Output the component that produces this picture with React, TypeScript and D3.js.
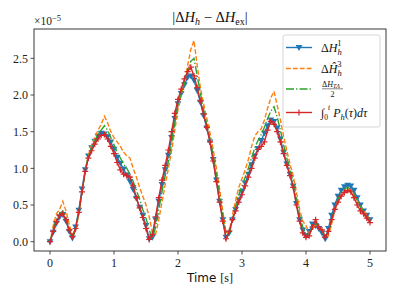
import * as d3 from 'd3';
import React from 'react';

// time grid (s), 0.05 s sampling
const time = d3.range(0, 5.0001, 0.05);

// values in units of 1e-5
const dH1 = [0.00, 0.13, 0.25, 0.34, 0.37, 0.28, 0.14, 0.05, 0.20, 0.43, 0.72, 0.98, 1.17, 1.28, 1.37, 1.44, 1.48, 1.47, 1.43, 1.36,
  1.26, 1.15, 1.07, 0.99, 0.91, 0.82, 0.71, 0.59, 0.47, 0.36, 0.22, 0.04, 0.06, 0.30, 0.55, 0.78, 0.98, 1.18, 1.42, 1.68,
  1.88, 2.02, 2.14, 2.24, 2.26, 2.20, 2.06, 1.90, 1.72, 1.55, 1.36, 1.12, 0.84, 0.55, 0.30, 0.06, 0.12, 0.30, 0.44, 0.57,
  0.68, 0.80, 0.92, 1.05, 1.17, 1.27, 1.38, 1.48, 1.58, 1.66, 1.64, 1.55, 1.40, 1.22, 1.06, 0.92, 0.76, 0.52, 0.30, 0.16,
  0.08, 0.14, 0.24, 0.22, 0.18, 0.12, 0.04, 0.18, 0.36, 0.50, 0.62, 0.70, 0.75, 0.77, 0.76, 0.70, 0.60, 0.50, 0.42, 0.36, 0.30];

const dHhat3 = [0.00, 0.22, 0.38, 0.44, 0.55, 0.42, 0.24, 0.10, 0.16, 0.38, 0.66, 0.96, 1.18, 1.32, 1.42, 1.52, 1.60, 1.71, 1.62, 1.50,
  1.42, 1.36, 1.30, 1.22, 1.17, 1.14, 1.00, 0.88, 0.74, 0.62, 0.50, 0.34, 0.12, 0.10, 0.30, 0.54, 0.78, 1.00, 1.24, 1.52,
  1.80, 2.00, 2.18, 2.40, 2.62, 2.74, 2.40, 2.10, 1.88, 1.68, 1.48, 1.26, 1.00, 0.72, 0.42, 0.12, 0.14, 0.36, 0.56, 0.74,
  0.86, 0.98, 1.12, 1.30, 1.44, 1.50, 1.54, 1.66, 1.82, 1.96, 2.05, 1.86, 1.66, 1.44, 1.24, 1.06, 0.90, 0.68, 0.44, 0.28,
  0.22, 0.12, 0.16, 0.24, 0.20, 0.14, 0.10, 0.08, 0.24, 0.42, 0.56, 0.64, 0.70, 0.72, 0.70, 0.64, 0.56, 0.48, 0.42, 0.36, 0.30];

const dHTL = [0.00, 0.18, 0.30, 0.38, 0.42, 0.32, 0.18, 0.04, 0.16, 0.40, 0.68, 0.96, 1.16, 1.28, 1.38, 1.46, 1.52, 1.58, 1.52, 1.42,
  1.32, 1.22, 1.14, 1.06, 1.00, 0.92, 0.82, 0.70, 0.58, 0.44, 0.32, 0.16, 0.04, 0.20, 0.44, 0.68, 0.90, 1.10, 1.34, 1.62,
  1.86, 2.02, 2.16, 2.30, 2.46, 2.50, 2.26, 2.02, 1.80, 1.60, 1.40, 1.18, 0.92, 0.64, 0.36, 0.10, 0.08, 0.30, 0.48, 0.64,
  0.76, 0.88, 1.00, 1.14, 1.28, 1.38, 1.46, 1.56, 1.68, 1.78, 1.84, 1.70, 1.52, 1.32, 1.14, 0.98, 0.82, 0.60, 0.36, 0.20,
  0.10, 0.10, 0.20, 0.26, 0.20, 0.14, 0.08, 0.12, 0.30, 0.46, 0.58, 0.66, 0.72, 0.74, 0.72, 0.66, 0.56, 0.48, 0.40, 0.34, 0.28];

const intPh = [0.00, 0.14, 0.27, 0.36, 0.38, 0.30, 0.16, 0.07, 0.18, 0.40, 0.68, 0.96, 1.14, 1.24, 1.33, 1.40, 1.45, 1.46, 1.40, 1.30,
  1.20, 1.08, 0.98, 0.92, 0.90, 0.88, 0.76, 0.60, 0.46, 0.33, 0.18, 0.03, 0.10, 0.34, 0.60, 0.84, 1.04, 1.25, 1.50, 1.75,
  1.94, 2.08, 2.22, 2.32, 2.38, 2.26, 2.10, 1.92, 1.74, 1.56, 1.36, 1.10, 0.82, 0.54, 0.28, 0.04, 0.14, 0.30, 0.42, 0.54,
  0.64, 0.76, 0.88, 1.00, 1.14, 1.26, 1.30, 1.36, 1.52, 1.64, 1.60, 1.50, 1.36, 1.20, 1.04, 0.90, 0.74, 0.50, 0.28, 0.12,
  0.06, 0.08, 0.20, 0.30, 0.20, 0.16, 0.06, 0.14, 0.30, 0.44, 0.54, 0.62, 0.67, 0.70, 0.68, 0.60, 0.50, 0.42, 0.38, 0.32, 0.26];

const xTicks = [0, 1, 2, 3, 4, 5];
const yTicks = [0, 0.5, 1.0, 1.5, 2.0, 2.5];

const W = 399, H = 299;
const left = 34, right = 386, top = 29, bottom = 251;
const serif = "'Liberation Serif', 'DejaVu Serif', serif";

const x = d3.scaleLinear().domain([-0.25, 5.25]).range([left, right]);
const y = d3.scaleLinear().domain([-0.127, 2.9]).range([bottom, top]);

const line = d3.line<number>().x((_, i) => x(time[i])).y(d => y(d));

const triDown = 'M-3.4,-2.5L3.4,-2.5L0,3.4Z';
const plus = 'M-3,0H3M0,-3V3';
const dash = '4.8,2.1';
const dashDot = '8,2.1,1.3,2.1';

function Tri({ cx, cy }: { cx: number; cy: number }) {
  return <path d={triDown} transform={`translate(${cx},${cy})`} fill="#1f77b4" />;
}
function Plus({ cx, cy }: { cx: number; cy: number }) {
  return <path d={plus} transform={`translate(${cx},${cy})`} stroke="#d62728" strokeWidth={1.2} fill="none" />;
}

export default function App() {
  const lx0 = 286, lx1 = 312, ltx = 321;
  return (
    <div style={{ position: 'fixed', left: 0, top: 0 }}>
      <svg width={W} height={H} style={{ display: 'block', background: '#fff' }} fontFamily={serif}>
        <defs>
          <clipPath id="plot"><rect x={left} y={top} width={right - left} height={bottom - top} /></clipPath>
        </defs>

        <g clipPath="url(#plot)">
          <path d={line(dH1) || ''} fill="none" stroke="#1f77b4" strokeWidth={1.4} />
          {dH1.map((v, i) => <Tri key={'b' + i} cx={x(time[i])} cy={y(v)} />)}
          <path d={line(dHhat3) || ''} fill="none" stroke="#ff7f0e" strokeWidth={1.4} strokeDasharray={dash} />
          <path d={line(dHTL) || ''} fill="none" stroke="#2ca02c" strokeWidth={1.4} strokeDasharray={dashDot} />
          <path d={line(intPh) || ''} fill="none" stroke="#d62728" strokeWidth={1.4} />
          {intPh.map((v, i) => <Plus key={'r' + i} cx={x(time[i])} cy={y(v)} />)}
        </g>

        <rect x={left} y={top} width={right - left} height={bottom - top} fill="none" stroke="#222" strokeWidth={0.9} />

        {xTicks.map(t => (
          <g key={'x' + t} transform={`translate(${x(t)},${bottom})`}>
            <line y2={3.5} stroke="#222" strokeWidth={0.8} />
            <text y={15.5} textAnchor="middle" fontSize={12} fill="#222">{t}</text>
          </g>
        ))}
        {yTicks.map(t => (
          <g key={'y' + t} transform={`translate(${left},${y(t)})`}>
            <line x2={-3.5} stroke="#222" strokeWidth={0.8} />
            <text x={-6} dy="0.35em" textAnchor="end" fontSize={12} fill="#222">{t.toFixed(1)}</text>
          </g>
        ))}

        <text x={34} y={25} fontSize={11.5} fill="#222">×10<tspan dy={-4.5} fontSize={8.5}>−5</tspan></text>

        <text x={210} y={22} textAnchor="middle" fontSize={14.5} fill="#111">
          |Δ<tspan fontStyle="italic">H</tspan><tspan dy={3} fontSize={10} fontStyle="italic">h</tspan>
          <tspan dy={-3}> − Δ</tspan><tspan fontStyle="italic">H</tspan><tspan dy={3} fontSize={10}>ex</tspan><tspan dy={-3}>|</tspan>
        </text>

        <text x={210} y={282} textAnchor="middle" fontSize={12} fill="#111">
          <tspan fontFamily="'DejaVu Sans', sans-serif">Time </tspan><tspan>[s]</tspan>
        </text>

        {/* legend */}
        <rect x={283} y={35} width={97} height={92} rx={2} fill="#fff" fillOpacity={0.8} stroke="#ccc" strokeWidth={0.8} />
        <line x1={lx0} x2={lx1} y1={47.5} y2={47.5} stroke="#1f77b4" strokeWidth={1.4} />
        <Tri cx={(lx0 + lx1) / 2} cy={47.5} />
        <text x={ltx} y={51.5} fontSize={12} fill="#111">
          Δ<tspan fontStyle="italic">H</tspan><tspan dy={3} fontSize={8.5} fontStyle="italic">h</tspan><tspan dx={-4.5} dy={-8.5} fontSize={8.5}>1</tspan>
        </text>

        <line x1={lx0} x2={lx1} y1={68.5} y2={68.5} stroke="#ff7f0e" strokeWidth={1.4} strokeDasharray={dash} />
        <text x={ltx} y={72.5} fontSize={12} fill="#111">
          Δ<tspan fontStyle="italic">Ĥ</tspan><tspan dy={3} fontSize={8.5} fontStyle="italic">h</tspan><tspan dx={-4.5} dy={-8.5} fontSize={8.5}>3</tspan>
        </text>

        <line x1={lx0} x2={lx1} y1={89} y2={89} stroke="#2ca02c" strokeWidth={1.4} strokeDasharray={dashDot} />
        <text x={ltx + 1} y={86.5} fontSize={8} fill="#111">
          Δ<tspan fontStyle="italic">H</tspan><tspan dy={1.5} fontSize={6} fontStyle="italic">TΛ</tspan>
        </text>
        <line x1={ltx + 1} x2={ltx + 22} y1={88.8} y2={88.8} stroke="#111" strokeWidth={0.5} />
        <text x={ltx + 11.5} y={96.5} fontSize={8} textAnchor="middle" fill="#111">2</text>

        <line x1={lx0} x2={lx1} y1={112.5} y2={112.5} stroke="#d62728" strokeWidth={1.4} />
        <Plus cx={(lx0 + lx1) / 2} cy={112.5} />
        <text x={ltx} y={116.5} fontSize={12} fill="#111">
          ∫<tspan dy={3} fontSize={7.5}>0</tspan><tspan dy={-10} fontSize={7.5} fontStyle="italic">t</tspan>
          <tspan dy={7} fontStyle="italic"> P</tspan><tspan dy={3} fontSize={8.5} fontStyle="italic">h</tspan>
          <tspan dy={-3}>(</tspan><tspan fontStyle="italic">τ</tspan><tspan>)</tspan><tspan fontStyle="italic">dτ</tspan>
        </text>
      </svg>
    </div>
  );
}
